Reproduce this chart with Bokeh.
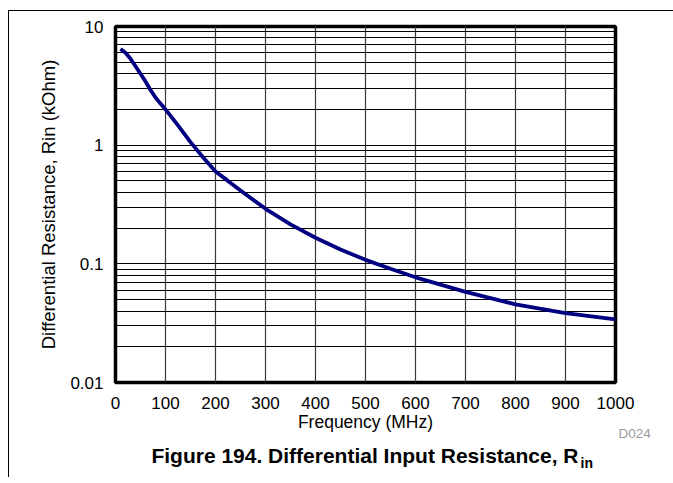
from bokeh.plotting import figure
from bokeh.layouts import column
from bokeh.models import FixedTicker, CustomJSTickFormatter, Label, Range1d
from bokeh.embed import file_html
from bokeh.resources import INLINE

# Data
freq_mhz = [10, 20, 30, 40, 50, 60, 70, 80, 90, 100, 125, 150, 175, 200, 225,
            250, 300, 350, 400, 450, 500, 550, 600, 700, 800, 900, 1000]
rin_kohm = [6.45, 6.0, 5.35, 4.62, 4.0, 3.44, 2.92, 2.52, 2.24, 2.0, 1.47, 1.06,
            0.79, 0.60, 0.50, 0.415, 0.291, 0.215, 0.166, 0.132, 0.108, 0.091,
            0.077, 0.058, 0.0455, 0.0385, 0.034]

x_ticks = [0, 100, 200, 300, 400, 500, 600, 700, 800, 900, 1000]
y_ticks = [0.01, 0.1, 1, 10]
y_minor = [0.02, 0.03, 0.04, 0.05, 0.06, 0.07, 0.08, 0.09,
           0.2, 0.3, 0.4, 0.5, 0.6, 0.7, 0.8, 0.9,
           2, 3, 4, 5, 6, 7, 8, 9]

x_label = "Frequency (MHz)"
y_label = "Differential Resistance, Rin (kOhm)"
title_main = "Figure 194. Differential Input Resistance, R"
title_sub = "in"
doc_id = "D024"

FONT = "Liberation Sans"
W = 664

# ---- main chart ----
p = figure(width=W, height=431,
           x_range=Range1d(0, 1000), y_range=Range1d(0.01, 10),
           y_axis_type="log", output_backend="svg", toolbar_location=None,
           min_border_left=106, min_border_top=15,
           min_border_right=58, min_border_bottom=60)

p.outline_line_color = "black"
p.outline_line_width = 3.5
p.outline_line_alpha = 1.0

p.xaxis.ticker = FixedTicker(ticks=x_ticks)
p.yaxis.ticker = FixedTicker(ticks=y_ticks, minor_ticks=y_minor)
p.yaxis.formatter = CustomJSTickFormatter(code="return String(tick)")
p.xgrid.ticker = FixedTicker(ticks=x_ticks)
p.ygrid.ticker = FixedTicker(ticks=y_ticks, minor_ticks=y_minor)

for ax in (p.xaxis, p.yaxis):
    ax.axis_line_color = None
    ax.major_tick_line_color = None
    ax.minor_tick_line_color = None
    ax.major_tick_out = 0
    ax.major_tick_in = 0
    ax.major_label_text_font = FONT
    ax.major_label_text_font_size = "17px"
    ax.major_label_text_color = "black"
    ax.axis_label_text_font = FONT
    ax.axis_label_text_font_style = "normal"
    ax.axis_label_text_color = "black"

p.xaxis.axis_label = x_label
p.yaxis.axis_label = y_label
p.xaxis.axis_label_text_font_size = "17.5px"
p.yaxis.axis_label_text_font_size = "18.5px"
p.xaxis.major_label_standoff = 14
p.xaxis.axis_label_standoff = 0
p.yaxis.major_label_standoff = 8
p.yaxis.axis_label_standoff = 8

p.xgrid.grid_line_color = "#3a3a3a"
p.xgrid.grid_line_width = 1.2
p.ygrid.grid_line_color = "black"
p.ygrid.grid_line_width = 1
p.ygrid.minor_grid_line_color = "black"
p.ygrid.minor_grid_line_width = 1

p.line(freq_mhz, rin_kohm, line_color="#000080", line_width=3.8)

# figure id, to the right of the x-axis title
p.add_layout(Label(x=3, y=-51, x_units="screen", y_units="screen", text=doc_id,
                   text_align="left", text_baseline="alphabetic", text_font=FONT,
                   text_font_size="13.5px", text_color="#9a9a9a"), "right")

# ---- caption strip (figure caption with subscript) ----
H2 = 35
cap = figure(width=W, height=H2, x_range=Range1d(0, 1000), y_range=Range1d(0, H2),
             output_backend="svg", toolbar_location=None,
             min_border=0, min_border_left=0, min_border_right=0,
             min_border_top=0, min_border_bottom=0)
cap.axis.visible = False
cap.grid.visible = False
cap.outline_line_color = None

cap.add_layout(Label(x=926, y=22, text=title_main, text_align="right",
                     text_baseline="alphabetic", text_font=FONT,
                     text_font_style="bold", text_font_size="21px",
                     text_color="black"))
cap.add_layout(Label(x=930, y=15, text=title_sub, text_align="left",
                     text_baseline="alphabetic", text_font=FONT,
                     text_font_style="bold", text_font_size="14px",
                     text_color="black"))

layout = column(p, cap, spacing=0)
layout.styles = {"margin-left": "8px", "margin-top": "10px",
                 "border-left": "1px solid black", "border-top": "1px solid black"}

open("out.html", "w").write(file_html(layout, INLINE))
